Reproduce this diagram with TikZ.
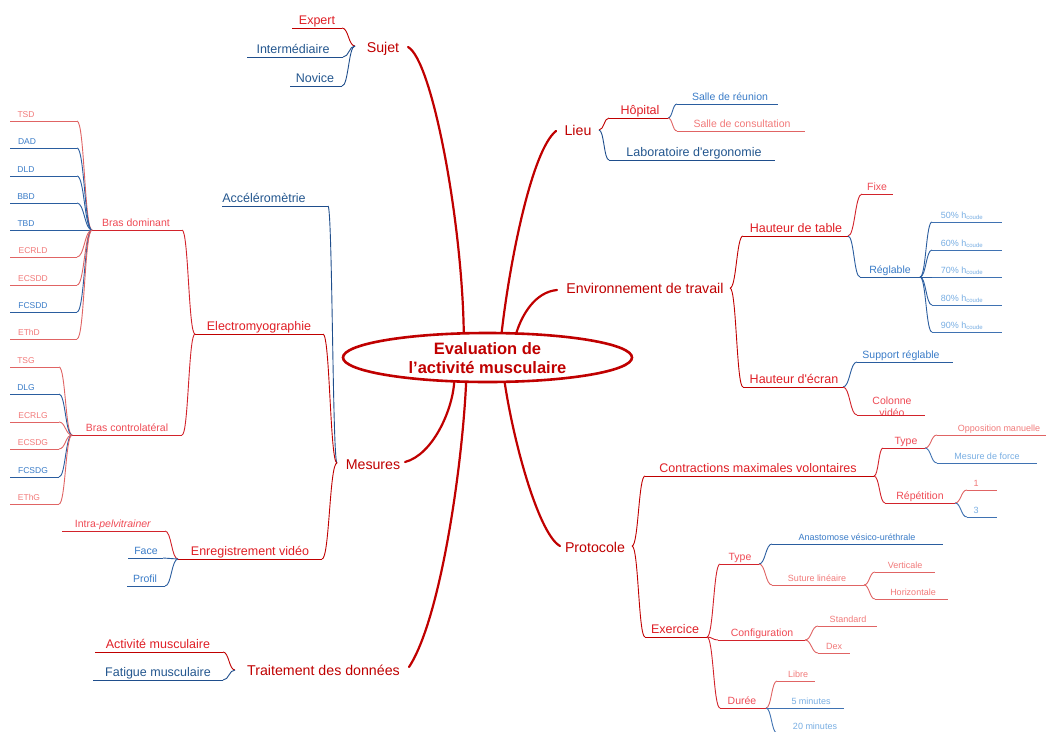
\documentclass[tikz,border=0pt]{standalone}
\usepackage{fontspec}
\setmainfont{Liberation Sans}[Ligatures=TeXOff]
\usetikzlibrary{shapes.geometric,calc}
\definecolor{mr}{HTML}{C00000}
\definecolor{r1}{HTML}{E01F26}
\definecolor{r2}{HTML}{EF4B55}
\definecolor{r3}{HTML}{F27A7A}
\definecolor{b1}{HTML}{24578F}
\definecolor{b2}{HTML}{3A7CC8}
\definecolor{b3}{HTML}{78AEE3}
\definecolor{lr1}{HTML}{C00000}
\definecolor{lr2}{HTML}{D2232B}
\definecolor{lr3}{HTML}{E06464}
\definecolor{lb1}{HTML}{1F4E8C}
\definecolor{lb2}{HTML}{2A5D9F}
\definecolor{lb3}{HTML}{3F72B2}
\tikzset{
  s1/.style={font=\fontsize{14.2}{16}\selectfont},
  s2/.style={font=\fontsize{12.5}{14}\selectfont},
  s3/.style={font=\fontsize{10.5}{12}\selectfont},
  s4/.style={font=\fontsize{9}{11}\selectfont},
  s5/.style={font=\fontsize{8.5}{10}\selectfont},
  line r1/.style={draw=lr1, line width=0.9pt},
  line r2/.style={draw=lr2, line width=0.9pt},
  line r3/.style={draw=lr3, line width=0.9pt},
  line b1/.style={draw=lb1, line width=0.9pt},
  line b2/.style={draw=lb2, line width=0.9pt},
  line b3/.style={draw=lb3, line width=0.9pt},
  mainline/.style={draw=mr, line width=2.2pt, line cap=round},
  maintopic/.style={s1, text=mr, anchor=base},
}
% name, x1, x2, y(underline), text centre x, size style, colour key, text
\newcommand\tp[8]{%
  \coordinate (#1-l) at (#2,#4);
  \coordinate (#1-r) at (#3,#4);
  \node[#6, text=#7, anchor=base, inner sep=0pt] (#1) at (#5,#4-4) {#8};
  \draw[line #7] (#1-l) -- (#1-r);
}
% colour key, child end, parent branch point
\newcommand\cn[3]{\draw[line #1] (#2) .. controls ($(#2)!0.5!(#3 |- #2)$) and ($(#3)!0.5!(#2 |- #3)$) .. (#3);}
\begin{document}
\begin{tikzpicture}[x=1pt,y=-1pt]
\fill[white] (0,0) rectangle (1046,731);
\useasboundingbox (0,0) rectangle (1046,731);

% centre
\node[ellipse, draw=mr, line width=2.6pt, minimum width=289pt, minimum height=49pt, inner sep=0pt] (ev) at (487.5,357.5) {};
\node[align=center, text=mr, font=\bfseries\fontsize{16.5}{19}\selectfont, inner sep=0pt] (evt) at (487.5,358) {Evaluation de\\l’activité musculaire};

% main topics
\node[maintopic] (sujet) at (383,52) {Sujet};
\coordinate (sujet-b) at (355,46); \coordinate (sujet-e) at (408,47);
\node[maintopic] (mes) at (373,469) {Mesures};
\coordinate (mes-b) at (337,463); \coordinate (mes-e) at (405,462);
\node[maintopic] (trait) at (323.5,675) {Traitement des données};
\coordinate (trait-b) at (235,670); \coordinate (trait-e) at (409,667);
\node[maintopic] (lieu) at (578,135) {Lieu};
\coordinate (lieu-b) at (599,130); \coordinate (lieu-e) at (556,131);
\node[maintopic] (env) at (645,293) {Environnement de travail};
\coordinate (env-b) at (730,288); \coordinate (env-e) at (557,290);
\node[maintopic] (prot) at (595,552) {Protocole};
\coordinate (prot-b) at (632,546); \coordinate (prot-e) at (560,546);

\draw[mainline] (ev.133) .. controls (462,220) and (432,60) .. (sujet-e);
\draw[mainline] (ev.61) .. controls (510,260) and (532,150) .. (lieu-e);
\draw[mainline] (ev.41) .. controls (522,315) and (535,292) .. (env-e);
\draw[mainline] (ev.-143) .. controls (452,412) and (432,455) .. (mes-e);
\draw[mainline] (ev.-130) .. controls (462,470) and (440,620) .. (trait-e);
\draw[mainline] (ev.-56) .. controls (515,450) and (540,535) .. (prot-e);

% Sujet
\tp{expert}{292}{342}{28}{317}{s2}{r1}{Expert}
\tp{inter}{247}{343}{57}{293}{s2}{b1}{Intermédiaire}
\tp{novice}{290}{342}{86}{315}{s2}{b1}{Novice}
\cn{r1}{expert-r}{sujet-b}
\cn{b1}{inter-r}{sujet-b}
\cn{b1}{novice-r}{sujet-b}

% Mesures
\tp{accel}{222}{328}{206}{264}{s2}{b1}{Accéléromètrie}
\tp{emg}{195}{323}{334}{259}{s2}{r1}{Electromyographie}
\tp{video}{178}{322}{559}{250}{s2}{r1}{Enregistrement vidéo}
\cn{b1}{accel-r}{mes-b}
\cn{r1}{emg-r}{mes-b}
\cn{r1}{video-r}{mes-b}

\tp{bd}{92}{182}{230}{136}{s3}{r2}{Bras dominant}
\tp{bc}{72}{182}{435}{127}{s3}{r2}{Bras controlatéral}
\cn{r2}{bd-r}{emg-l}
\cn{r2}{bc-r}{emg-l}

\tp{tsd}{10}{77}{121}{26}{s5}{r3}{TSD}
\tp{dad}{10}{77}{148}{27}{s5}{b2}{DAD}
\tp{dld}{10}{77}{176}{26}{s5}{b2}{DLD}
\tp{bbd}{10}{77}{203}{26}{s5}{b2}{BBD}
\tp{tbd}{10}{77}{230}{26}{s5}{b2}{TBD}
\tp{ecrld}{10}{77}{257}{33}{s5}{r3}{ECRLD}
\tp{ecsdd}{10}{77}{285}{33}{s5}{r3}{ECSDD}
\tp{fcsdd}{10}{77}{312}{33}{s5}{b2}{FCSDD}
\tp{ethd}{10}{77}{339}{29}{s5}{r3}{EThD}
\cn{r3}{tsd-r}{bd-l}
\cn{b2}{dad-r}{bd-l}
\cn{b2}{dld-r}{bd-l}
\cn{b2}{bbd-r}{bd-l}
\cn{b2}{tbd-r}{bd-l}
\cn{r3}{ecrld-r}{bd-l}
\cn{r3}{ecsdd-r}{bd-l}
\cn{b2}{fcsdd-r}{bd-l}
\cn{r3}{ethd-r}{bd-l}

\tp{tsg}{10}{59}{367}{26}{s5}{r3}{TSG}
\tp{dlg}{10}{59}{394}{26}{s5}{b2}{DLG}
\tp{ecrlg}{10}{59}{422}{33}{s5}{r3}{ECRLG}
\tp{ecsdg}{10}{59}{449}{33}{s5}{r3}{ECSDG}
\tp{fcsdg}{10}{59}{477}{33}{s5}{b2}{FCSDG}
\tp{ethg}{10}{59}{504}{29}{s5}{r3}{EThG}
\cn{r3}{tsg-r}{bc-l}
\cn{b2}{dlg-r}{bc-l}
\cn{r3}{ecrlg-r}{bc-l}
\cn{r3}{ecsdg-r}{bc-l}
\cn{b2}{fcsdg-r}{bc-l}
\cn{r3}{ethg-r}{bc-l}

\tp{intra}{62}{165}{531}{113}{s3}{r2}{Intra-\textit{pelvitrainer}}
\tp{face}{128}{163}{558}{146}{s3}{b2}{Face}
\tp{profil}{127}{165}{586}{145}{s3}{b2}{Profil}
\cn{r2}{intra-r}{video-l}
\cn{b2}{face-r}{video-l}
\cn{b2}{profil-r}{video-l}

% Traitement
\tp{act}{95}{223}{652}{158}{s2}{r1}{Activité musculaire}
\tp{fat}{93}{223}{680}{158}{s2}{b1}{Fatigue musculaire}
\cn{r1}{act-r}{trait-b}
\cn{b1}{fat-r}{trait-b}

% Lieu
\tp{hop}{609}{668}{118}{640}{s2}{r1}{Hôpital}
\tp{labo}{609}{775}{160}{694}{s2}{b1}{Laboratoire d'ergonomie}
\cn{r1}{hop-l}{lieu-b}
\cn{b1}{labo-l}{lieu-b}
\tp{reunion}{677}{778}{104}{730}{s3}{b2}{Salle de réunion}
\tp{consult}{677}{805}{131}{742}{s3}{r3}{Salle de consultation}
\cn{b2}{reunion-l}{hop-r}
\cn{r3}{consult-l}{hop-r}

% Environnement
\tp{htable}{743}{848}{236}{796}{s2}{r1}{Hauteur de table}
\tp{hecran}{743}{843}{387}{794}{s2}{r1}{Hauteur d'écran}
\cn{r1}{htable-l}{env-b}
\cn{r1}{hecran-l}{env-b}
\tp{fixe}{862}{893}{194}{877}{s3}{r2}{Fixe}
\tp{regl}{860}{920}{277}{890}{s3}{b2}{Réglable}
\cn{r2}{fixe-l}{htable-r}
\cn{b2}{regl-l}{htable-r}
\tp{h50}{932}{1002}{222}{962}{s4}{b3}{50\% h\textsubscript{coude}}
\tp{h60}{932}{1002}{250}{962}{s4}{b3}{60\% h\textsubscript{coude}}
\tp{h70}{932}{1002}{277}{962}{s4}{b3}{70\% h\textsubscript{coude}}
\tp{h80}{932}{1002}{305}{962}{s4}{b3}{80\% h\textsubscript{coude}}
\tp{h90}{932}{1002}{332}{962}{s4}{b3}{90\% h\textsubscript{coude}}
\cn{b2}{h50-l}{regl-r}
\cn{b2}{h60-l}{regl-r}
\cn{b2}{h70-l}{regl-r}
\cn{b2}{h80-l}{regl-r}
\cn{b2}{h90-l}{regl-r}
\tp{support}{857}{953}{362}{901}{s3}{b2}{Support réglable}
\coordinate (colonne-l) at (857,415);
\coordinate (colonne-r) at (925,415);
\node[s3, text=r2, align=center, inner sep=0pt] (colonne) at (892,407) {Colonne\\vidéo};
\draw[line r2] (colonne-l) -- (colonne-r);
\cn{b2}{support-l}{hecran-r}
\cn{r2}{colonne-l}{hecran-r}

% Protocole
\tp{cmv}{645}{874}{476}{758}{s2}{r1}{Contractions maximales volontaires}
\tp{exer}{645}{707}{637}{675}{s2}{r1}{Exercice}
\cn{r1}{cmv-l}{prot-b}
\cn{r1}{exer-l}{prot-b}
\tp{type1}{883}{925}{448}{906}{s3}{r2}{Type}
\tp{rep}{885}{955}{503}{920}{s3}{r2}{Répétition}
\cn{r2}{type1-l}{cmv-r}
\cn{r2}{rep-l}{cmv-r}
\tp{oppo}{937}{1046}{435}{999}{s4}{r3}{Opposition manuelle}
\tp{force}{937}{1037}{463}{987}{s4}{b3}{Mesure de force}
\cn{r3}{oppo-l}{type1-r}
\cn{b3}{force-l}{type1-r}
\tp{rep1}{967}{997}{490}{976}{s4}{r3}{1}
\tp{rep3}{967}{997}{517}{976}{s4}{b3}{3}
\cn{r3}{rep1-l}{rep-r}
\cn{b3}{rep3-l}{rep-r}

\tp{type2}{720}{759}{564}{740}{s3}{r2}{Type}
\tp{config}{718}{805}{640}{762}{s3}{r2}{Configuration}
\tp{duree}{720}{766}{708}{742}{s3}{r2}{Durée}
\cn{r2}{type2-l}{exer-r}
\cn{r2}{config-l}{exer-r}
\cn{r2}{duree-l}{exer-r}
\tp{anast}{772}{943}{544}{857}{s4}{b2}{Anastomose vésico-uréthrale}
\tp{suture}{772}{864}{585}{817}{s4}{r3}{Suture linéaire}
\cn{b2}{anast-l}{type2-r}
\cn{r3}{suture-l}{type2-r}
\tp{vert}{875}{935}{572}{905}{s4}{r3}{Verticale}
\tp{horiz}{875}{948}{599}{913}{s4}{r3}{Horizontale}
\cn{r3}{vert-l}{suture-r}
\cn{r3}{horiz-l}{suture-r}
\tp{std}{818}{877}{626}{848}{s4}{r3}{Standard}
\tp{dex}{818}{850}{653}{834}{s4}{r3}{Dex}
\cn{r3}{std-l}{config-r}
\cn{r3}{dex-l}{config-r}
\tp{libre}{777}{815}{681}{798}{s4}{r3}{Libre}
\tp{min5}{777}{844}{708}{811}{s4}{b3}{5 minutes}
\tp{min20}{777}{848}{733}{815}{s4}{b3}{20 minutes}
\cn{r3}{libre-l}{duree-r}
\cn{b3}{min5-l}{duree-r}
\cn{b3}{min20-l}{duree-r}
\end{tikzpicture}
\end{document}
